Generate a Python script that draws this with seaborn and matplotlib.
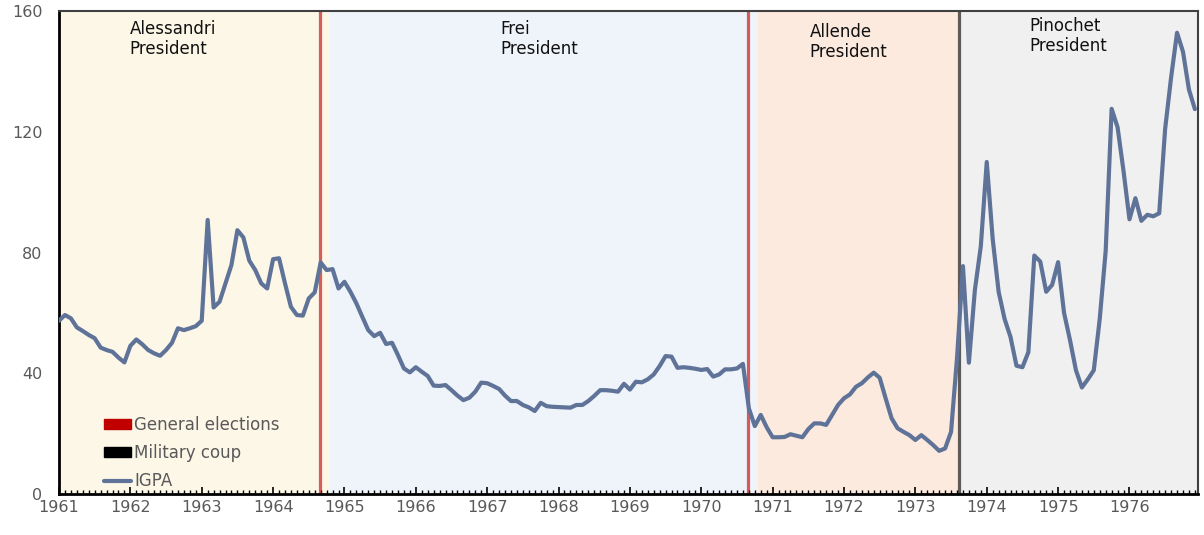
import numpy as np
import pandas as pd
import seaborn as sns
import matplotlib.pyplot as plt
from matplotlib.patches import Patch
from matplotlib.lines import Line2D
from matplotlib.ticker import MultipleLocator

# Monthly IGPA values, Jan 1961 - Dec 1976
igpa_1961_1964 = [57.4, 59.3, 58.2, 55.2, 54.0, 52.7, 51.6, 48.5, 47.7, 47.1, 45.2, 43.6,
                  49.1, 51.2, 49.6, 47.7, 46.6, 45.8, 47.7, 50.1, 54.9, 54.3, 54.9, 55.6,
                  57.4, 90.8, 61.8, 63.7, 69.8, 75.9, 87.4, 85.0, 77.3, 74.2, 69.8, 68.1,
                  77.8, 78.1, 69.8, 62.0, 59.3, 59.1, 64.8, 66.8, 76.7, 74.2, 74.5, 68.1]
igpa_1965_1968 = [70.3, 67.0, 63.2, 58.7, 54.3, 52.3, 53.4, 49.7, 50.1, 46.0, 41.6, 40.3,
                  42.0, 40.5, 39.1, 35.9, 35.8, 36.1, 34.4, 32.6, 31.1, 31.9, 33.9, 36.9,
                  36.7, 35.8, 34.8, 32.6, 30.8, 30.8, 29.5, 28.7, 27.5, 30.2, 29.1, 28.9,
                  28.8, 28.7, 28.6, 29.5, 29.5, 30.8, 32.5, 34.4, 34.4, 34.2, 33.9, 36.5]
igpa_1969_1972 = [34.6, 37.2, 37.0, 38.0, 39.6, 42.4, 45.7, 45.5, 41.8, 42.0, 41.8, 41.5,
                  41.1, 41.4, 38.9, 39.6, 41.3, 41.3, 41.6, 43.1, 28.4, 22.5, 26.2, 22.1,
                  18.8, 18.8, 18.9, 19.8, 19.3, 18.8, 21.5, 23.4, 23.4, 22.9, 26.2, 29.5,
                  31.7, 33.0, 35.5, 36.7, 38.6, 40.2, 38.5, 31.7, 25.1, 21.8, 20.6, 19.5]
igpa_1973_1976 = [17.9, 19.5, 17.9, 16.2, 14.3, 15.1, 20.6, 45.0, 75.5, 43.5, 67.5, 82.0,
                  110.0, 84.5, 67.0, 58.0, 52.0, 42.5, 42.0, 47.0, 79.0, 77.0, 67.0, 69.3,
                  76.8, 60.0, 51.0, 41.0, 35.3, 38.0, 41.0, 58.0, 80.5, 127.6, 121.5, 107.0,
                  91.0, 98.0, 90.5, 92.5, 92.0, 93.0, 121.0, 138.0, 152.8, 146.5, 134.0, 127.5]

presidents = ["Alessandri\nPresident", "Frei\nPresident", "Allende\nPresident", "Pinochet\nPresident"]
term_colors = ["#fdf7e8", "#eff3fa", "#fceade", "#f0f0f0"]
label_x = [1961.99, 1967.19, 1971.52, 1974.6]
label_y = [157, 157, 156, 158]

elections = [1964.655, 1970.65]
inaugurations = [1964.8, 1970.79]
coup = 1973.61

igpa = igpa_1961_1964 + igpa_1965_1968 + igpa_1969_1972 + igpa_1973_1976
df = pd.DataFrame({"year": 1961 + np.arange(len(igpa)) / 12.0, "IGPA": igpa})

sns.set_style("white")
plt.rcParams['font.family'] = ['DejaVu Sans']

fig = plt.figure(figsize=(12.04, 5.35), dpi=100)
ax = fig.add_axes([0.049, 0.0766, 0.946, 0.9028])

# president shading (new term starts at inauguration, not at election)
bounds = [1961.0, inaugurations[0], inaugurations[1], coup, 1977.0]
for i, c in enumerate(term_colors):
    ax.axvspan(bounds[i], bounds[i + 1], color=c, lw=0, zorder=0)

for xe in elections:
    ax.axvline(xe, color="#c00000", alpha=0.62, lw=2.3, zorder=1)
ax.axvline(coup, color="black", alpha=0.62, lw=2.3, zorder=1)

line_color = "#5f7399"
sns.lineplot(data=df, x="year", y="IGPA", ax=ax, color=line_color, lw=3, zorder=3)

for txt, xx, yy in zip(presidents, label_x, label_y):
    ax.text(xx, yy, txt, fontsize=12, color="#111111", ha="left", va="top", linespacing=1.15)

ax.set_xlim(1961, 1976.96)
ax.set_ylim(0, 160)
ax.set_yticks([0, 40, 80, 120, 160])
ax.set_xticks(range(1961, 1977))
ax.xaxis.set_minor_locator(MultipleLocator(1 / 12))
ax.set_xlabel("")
ax.set_ylabel("")
ax.tick_params(axis="x", which="major", direction="in", length=5, width=1.2, color="black",
               labelsize=11.5, labelcolor="#595959", pad=4, bottom=True)
ax.tick_params(axis="x", which="minor", direction="in", length=3, width=1, color="black", bottom=True)
ax.tick_params(axis="y", length=0, labelsize=11.5, labelcolor="#595959", pad=12)

ax.spines["left"].set_color("black")
ax.spines["left"].set_linewidth(2)
ax.spines["bottom"].set_color("black")
ax.spines["bottom"].set_linewidth(2)
for sp in ["top", "right"]:
    ax.spines[sp].set_color("#404040")
    ax.spines[sp].set_linewidth(1.5)

handles = [Patch(color="#c00000", label="General elections"),
           Patch(color="black", label="Military coup"),
           Line2D([], [], color=line_color, lw=3, label="IGPA")]
ax.legend(handles=handles, loc="lower left", bbox_to_anchor=(0.026, -0.023), frameon=False,
          fontsize=12, labelcolor="#595959", handlelength=1.65, handleheight=0.5,
          handletextpad=0.2, labelspacing=0.6)

fig.savefig("out.png", dpi=100)
